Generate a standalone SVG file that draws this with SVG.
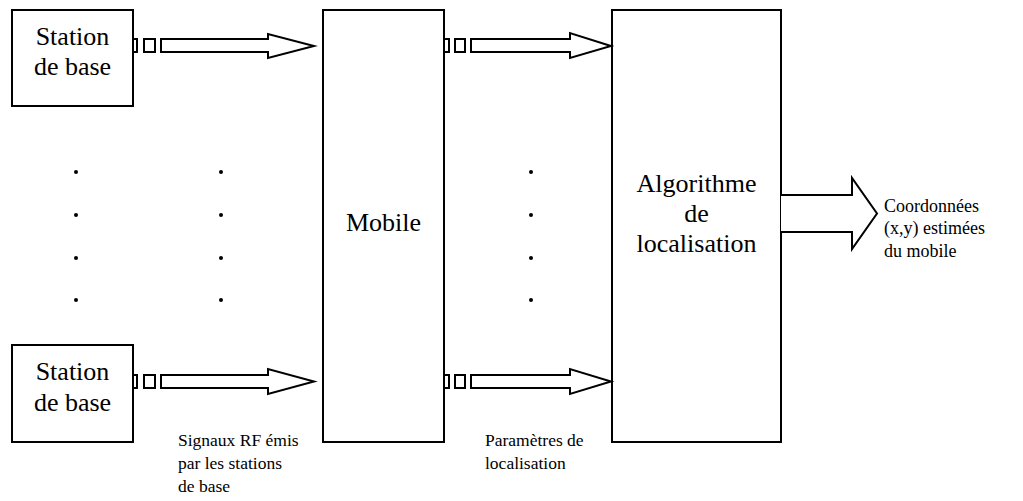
<svg xmlns="http://www.w3.org/2000/svg" width="1023" height="501" viewBox="0 0 1023 501">
<style>
.box{fill:#fff;stroke:#000;stroke-width:2}
.arr{fill:#fff;stroke:#000;stroke-width:2;stroke-linejoin:miter}
.big{font-family:"Liberation Serif","Times New Roman",serif;font-size:26px;fill:#000;text-anchor:middle}
.small{font-family:"Liberation Serif","Times New Roman",serif;font-size:17.5px;fill:#000}
.out{font-family:"Liberation Serif","Times New Roman",serif;font-size:18px;fill:#000}
.dot{fill:#000}
</style>
<rect width="1023" height="501" fill="#fff"/>
<g id="station1">
<rect class="box" x="12" y="10" width="121" height="96"/>
<text class="big" x="72.5" y="45">Station</text>
<text class="big" x="72.5" y="75">de base</text>
</g>
<g id="station2">
<rect class="box" x="12" y="345" width="121" height="97"/>
<text class="big" x="72.5" y="380">Station</text>
<text class="big" x="72.5" y="411">de base</text>
</g>
<g id="mobile">
<rect class="box" x="323" y="10" width="121" height="432"/>
<text class="big" x="383.5" y="231">Mobile</text>
</g>
<g id="algo">
<rect class="box" x="612" y="10" width="169" height="432"/>
<text class="big" x="696.5" y="192">Algorithme</text>
<text class="big" x="696.5" y="222">de</text>
<text class="big" x="696.5" y="252">localisation</text>
</g>
<g id="connectors">
<g id="a1">
<rect class="arr" x="133" y="39" width="4" height="13"/>
<rect class="arr" x="144" y="39" width="11" height="13"/>
<polygon class="arr" points="161,39 268,39 268,34 314,46 268,58 268,52 161,52"/>
</g>
<g id="a2">
<rect class="arr" x="133" y="375" width="4" height="13"/>
<rect class="arr" x="144" y="375" width="11" height="13"/>
<polygon class="arr" points="161,375 268,375 268,369 314,381.5 268,394 268,388 161,388"/>
</g>
<g id="a3">
<rect class="arr" x="444" y="39" width="5" height="13"/>
<rect class="arr" x="455" y="39" width="10" height="13"/>
<polygon class="arr" points="471,39 570,39 570,33 611,46 570,58 570,52 471,52"/>
</g>
<g id="a4">
<rect class="arr" x="444" y="375" width="5" height="13"/>
<rect class="arr" x="455" y="375" width="10" height="13"/>
<polygon class="arr" points="471,375 570,375 570,369 611,381.5 570,394 570,388 471,388"/>
</g>
<g id="a5">
<polyline class="arr" points="781,195 852,195 852,178 877,213.5 852,249 852,232 781,232"/>
</g>
</g>
<g id="dots">
<circle class="dot" cx="76" cy="172" r="2"/><circle class="dot" cx="76" cy="215" r="2"/><circle class="dot" cx="76" cy="258" r="2"/><circle class="dot" cx="76" cy="300" r="2"/>
<circle class="dot" cx="221" cy="172" r="2"/><circle class="dot" cx="221" cy="215" r="2"/><circle class="dot" cx="221" cy="258" r="2"/><circle class="dot" cx="221" cy="300" r="2"/>
<circle class="dot" cx="531" cy="172" r="2"/><circle class="dot" cx="531" cy="215" r="2"/><circle class="dot" cx="531" cy="258" r="2"/><circle class="dot" cx="531" cy="300" r="2"/>
</g>
<g id="labels">
<text class="small" x="178" y="446">Signaux RF émis</text>
<text class="small" x="178" y="469">par les stations</text>
<text class="small" x="178" y="492">de base</text>
<text class="small" x="485" y="446">Paramètres de</text>
<text class="small" x="485" y="469">localisation</text>
<text class="out" x="884" y="212">Coordonnées</text>
<text class="out" x="884" y="234">(x,y) estimées</text>
<text class="out" x="884" y="257">du mobile</text>
</g>
</svg>
